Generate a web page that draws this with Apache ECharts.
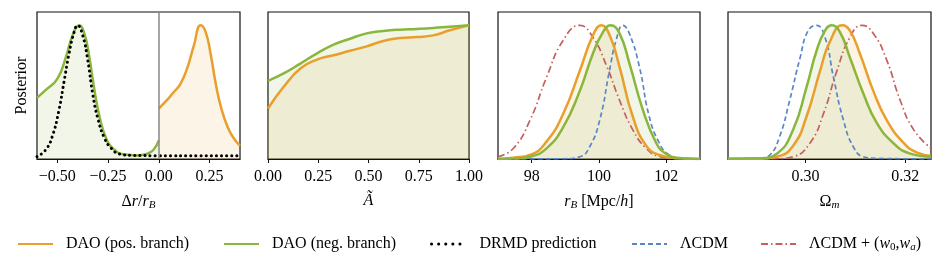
<!DOCTYPE html>
<html>
<head>
<meta charset="utf-8">
<script src="https://cdn.jsdelivr.net/npm/echarts@6/dist/echarts.min.js"></script>
<style>
html,body{margin:0;padding:0;background:#fff;}
#c{width:946px;height:271px;}
</style>
</head>
<body>
<div id="c"></div>
<script>
// ---------- Data (densities normalised to peak = 1) ----------
// Panel 1: Delta r / r_B
const p1Green = [[-0.6,0.458],[-0.558,0.515],[-0.5,0.60],[-0.458,0.76],[-0.425,0.925],[-0.392,1.0],[-0.367,0.94],[-0.342,0.76],[-0.317,0.515],[-0.292,0.316],[-0.259,0.154],[-0.226,0.08],[-0.176,0.035],[-0.11,0.027],[-0.06,0.037],[-0.027,0.067],[0.0,0.14]];
const p1Orange = [[0.0,0.378],[0.04,0.44],[0.073,0.50],[0.106,0.56],[0.14,0.68],[0.173,0.85],[0.206,1.0],[0.231,0.95],[0.256,0.78],[0.281,0.56],[0.306,0.39],[0.339,0.24],[0.372,0.15],[0.4,0.10]];
const p1Drmd = [[-0.6,0.017],[-0.558,0.067],[-0.525,0.167],[-0.492,0.366],[-0.467,0.577],[-0.442,0.79],[-0.417,0.95],[-0.40,1.0],[-0.375,0.925],[-0.35,0.74],[-0.326,0.49],[-0.30,0.30],[-0.267,0.154],[-0.234,0.08],[-0.193,0.037],[-0.126,0.027],[0.0,0.025],[0.2,0.025],[0.4,0.025]];
// Panel 2: A tilde
const p2Green = [[0,0.585],[0.078,0.64],[0.161,0.714],[0.244,0.79],[0.326,0.856],[0.408,0.90],[0.491,0.94],[0.574,0.958],[0.657,0.968],[0.74,0.973],[0.822,0.98],[0.905,0.99],[1.0,1.0]];
const p2Orange = [[0,0.378],[0.078,0.54],[0.161,0.677],[0.244,0.744],[0.326,0.776],[0.408,0.81],[0.491,0.843],[0.574,0.883],[0.657,0.905],[0.74,0.913],[0.822,0.925],[0.905,0.963],[1.0,1.0]];
// Panel 3: r_B [Mpc/h]
const p3Orange = [[97.0,0.0],[97.46,0.01],[97.95,0.03],[98.44,0.13],[98.94,0.34],[99.43,0.66],[99.82,0.925],[100.07,1.0],[100.32,0.925],[100.61,0.69],[101.0,0.32],[101.4,0.10],[101.79,0.03],[102.38,0.005],[103.0,0.0]];
const p3Green = [[97.0,0.0],[97.46,0.003],[97.95,0.017],[98.44,0.08],[98.94,0.24],[99.43,0.51],[99.82,0.79],[100.12,0.95],[100.34,1.0],[100.61,0.94],[100.91,0.71],[101.3,0.37],[101.7,0.12],[101.99,0.04],[102.38,0.007],[103.0,0.0]];
const p3Lcdm = [[97.0,0.0],[98.94,0.002],[99.43,0.017],[99.72,0.09],[100.02,0.29],[100.31,0.66],[100.51,0.89],[100.71,1.0],[100.9,0.94],[101.2,0.69],[101.49,0.32],[101.79,0.12],[102.08,0.03],[102.38,0.007],[103.0,0.0]];
const p3W0wa = [[97.0,0.017],[97.46,0.08],[97.95,0.29],[98.44,0.61],[98.94,0.89],[99.43,1.0],[99.82,0.91],[100.22,0.70],[100.61,0.44],[101.0,0.22],[101.4,0.08],[101.79,0.02],[102.38,0.002],[103.0,0.0]];
// Panel 4: Omega_m
const p4Lcdm = [[0.2844,0.0],[0.2908,0.005],[0.2928,0.03],[0.2948,0.17],[0.2968,0.44],[0.2989,0.76],[0.3005,0.96],[0.3022,1.0],[0.3039,0.91],[0.3056,0.61],[0.3076,0.29],[0.3096,0.09],[0.3116,0.017],[0.3143,0.005],[0.3252,0.0]];
const p4Green = [[0.2844,0.002],[0.2908,0.005],[0.2942,0.04],[0.2975,0.22],[0.3002,0.54],[0.3022,0.81],[0.3039,0.96],[0.3052,1.0],[0.3069,0.95],[0.3089,0.76],[0.3116,0.49],[0.3143,0.27],[0.3176,0.12],[0.321,0.04],[0.3252,0.017]];
const p4Orange = [[0.2844,0.001],[0.2908,0.002],[0.2942,0.017],[0.2975,0.10],[0.3002,0.32],[0.3029,0.66],[0.3049,0.88],[0.3074,1.0],[0.3089,0.96],[0.3109,0.79],[0.3136,0.51],[0.3163,0.29],[0.3197,0.12],[0.3223,0.05],[0.3252,0.025]];
const p4W0wa = [[0.2844,0.0],[0.2942,0.002],[0.2975,0.017],[0.3009,0.12],[0.3036,0.34],[0.3062,0.65],[0.3089,0.91],[0.3113,1.0],[0.3136,0.94],[0.3163,0.74],[0.319,0.44],[0.3217,0.22],[0.3252,0.08]];

const axisRanges = [[-0.6,0.4],[0,1],[97,103],[0.2844,0.3252]];
const tickValues = [[-0.5,-0.25,0,0.25],[0,0.25,0.5,0.75,1.0],[98,100,102],[0.30,0.32]];
const names = ['DAO (pos. branch)','DAO (neg. branch)','DRMD prediction','ΛCDM','ΛCDM + (w0,wa)'];

// ---------- Styling ----------
const FONT = '"Liberation Serif","DejaVu Serif",serif';
const C_OR = '#E89F2B', C_GR = '#8BB63C', C_BL = '#5B87C6', C_RD = '#C4605E';
const FILL_OR = 'rgba(232,159,43,0.17)', FILL_GR = 'rgba(139,182,60,0.17)';
const gridLeft = [37,268,498,728];
const gridWidth = [203,201,202,203];

const fmt = [
  v => (v < 0 ? '\u2212' : '') + Math.abs(v).toFixed(2),
  v => v.toFixed(2),
  v => String(Math.round(v)),
  v => v.toFixed(2)
];
const axisNames = [
  '{n|Δ}{i|r}{n|/}{i|r}{s|B}',
  '{i|Ã}',
  '{i|r}{s|B}{n| [Mpc/}{i|h}{n|]}',
  '{n|Ω}{s|m}'
];
const rich = {
  n:{fontFamily:FONT,fontSize:16,color:'#000'},
  i:{fontFamily:FONT,fontSize:16,fontStyle:'italic',color:'#000'},
  s:{fontFamily:FONT,fontSize:11,fontStyle:'italic',color:'#000',padding:[7,0,0,0]},
  s2:{fontFamily:FONT,fontSize:11,color:'#000',padding:[7,0,0,0]}
};

const grids = [], xAxes = [], yAxes = [];
for (let k = 0; k < 4; k++) {
  grids.push({left:gridLeft[k], top:12, width:gridWidth[k], height:147, show:true, borderColor:'#111', borderWidth:1.2, backgroundColor:'transparent'});
  xAxes.push({
    type:'value', gridIndex:k, min:axisRanges[k][0], max:axisRanges[k][1],
    splitLine:{show:false},
    axisLine:{show:true, onZero:false, lineStyle:{color:'#111',width:1.2}},
    axisTick:{show:true, length:4, customValues:tickValues[k], lineStyle:{color:'#111',width:1}},
    axisLabel:{customValues:tickValues[k], formatter:fmt[k], fontFamily:FONT, fontSize:16, color:'#000', margin:10, hideOverlap:false, showMinLabel:true, showMaxLabel:true},
    name:axisNames[k], nameLocation:'middle', nameGap:34,
    nameTextStyle:{fontFamily:FONT, fontSize:16, color:'#000', rich:rich}
  });
  yAxes.push({
    type:'value', gridIndex:k, min:0, max:1.1,
    splitLine:{show:false}, axisLine:{show:false}, axisTick:{show:false}, axisLabel:{show:false},
    name: k === 0 ? 'Posterior' : '', nameLocation:'middle', nameGap:7, nameRotate:90,
    nameTextStyle:{fontFamily:FONT, fontSize:16, color:'#000'}
  });
}

function line(name, k, data, color, opts) {
  const o = Object.assign({width:2.5, type:'solid', fill:null, z:2}, opts || {});
  const s = {
    name:name, type:'line', xAxisIndex:k, yAxisIndex:k, data:data,
    showSymbol:false, symbol:'none', smooth:0.5, z:o.z,
    lineStyle:{color:color, width:o.width, type:o.type, cap:o.cap || 'butt', join:'round'},
    itemStyle:{color:color}, silent:true, clip:true
  };
  if (o.fill) s.areaStyle = {color:o.fill, origin:'start'};
  return s;
}

const DASH = [5,3], DASHDOT = [7,3,1.5,3], DOT = [0.1,5];

const series = [
  // panel 1
  line(names[0],0,p1Orange,C_OR,{fill:FILL_OR}),
  Object.assign(line(names[1],0,p1Green,C_GR,{fill:FILL_GR}), {
    markLine:{silent:true, symbol:['none','none'], label:{show:false}, animation:false,
      lineStyle:{color:'#888', width:1.5, type:'solid'}, data:[{xAxis:0}]}
  }),
  line(names[2],0,p1Drmd,'#000',{width:3, type:DOT, cap:'round', z:3}),
  // panel 2
  line(names[0],1,p2Orange,C_OR,{fill:FILL_OR}),
  line(names[1],1,p2Green,C_GR,{fill:FILL_GR}),
  // panel 3
  line(names[3],2,p3Lcdm,C_BL,{width:1.7, type:DASH}),
  line(names[4],2,p3W0wa,C_RD,{width:1.7, type:DASHDOT}),
  line(names[0],2,p3Orange,C_OR,{fill:FILL_OR}),
  line(names[1],2,p3Green,C_GR,{fill:FILL_GR}),
  // panel 4
  line(names[3],3,p4Lcdm,C_BL,{width:1.7, type:DASH}),
  line(names[4],3,p4W0wa,C_RD,{width:1.7, type:DASHDOT}),
  line(names[0],3,p4Orange,C_OR,{fill:FILL_OR}),
  line(names[1],3,p4Green,C_GR,{fill:FILL_GR})
];

const legendLeft = [17,223,430,631,760];
const legends = names.map((n,i) => {
  const l = {
    data:[n],
    left:legendLeft[i], top:236, itemWidth:35, itemHeight:14, padding:0,
    selectedMode:false,
    itemStyle:{opacity:0, color:'transparent', borderWidth:0},
    textStyle:{fontFamily:FONT, fontSize:16, color:'#000', padding:[0,0,0,8], rich:rich},
    formatter: i === 4 ? () => '{n|ΛCDM + (}{i|w}{s2|0}{n|,}{i|w}{s|a}{n|)}' : (nm => nm)
  };
  if (i === 2) l.lineStyle = {type:[0.1,7], cap:'round', width:3, color:'#000'};
  return l;
});

const chart = echarts.init(document.getElementById('c'), null, {renderer:'canvas'});
chart.setOption({
  animation:false,
  backgroundColor:'#fff',
  grid:grids, xAxis:xAxes, yAxis:yAxes,
  legend:legends,
  series:series
});
</script>
</body>
</html>
